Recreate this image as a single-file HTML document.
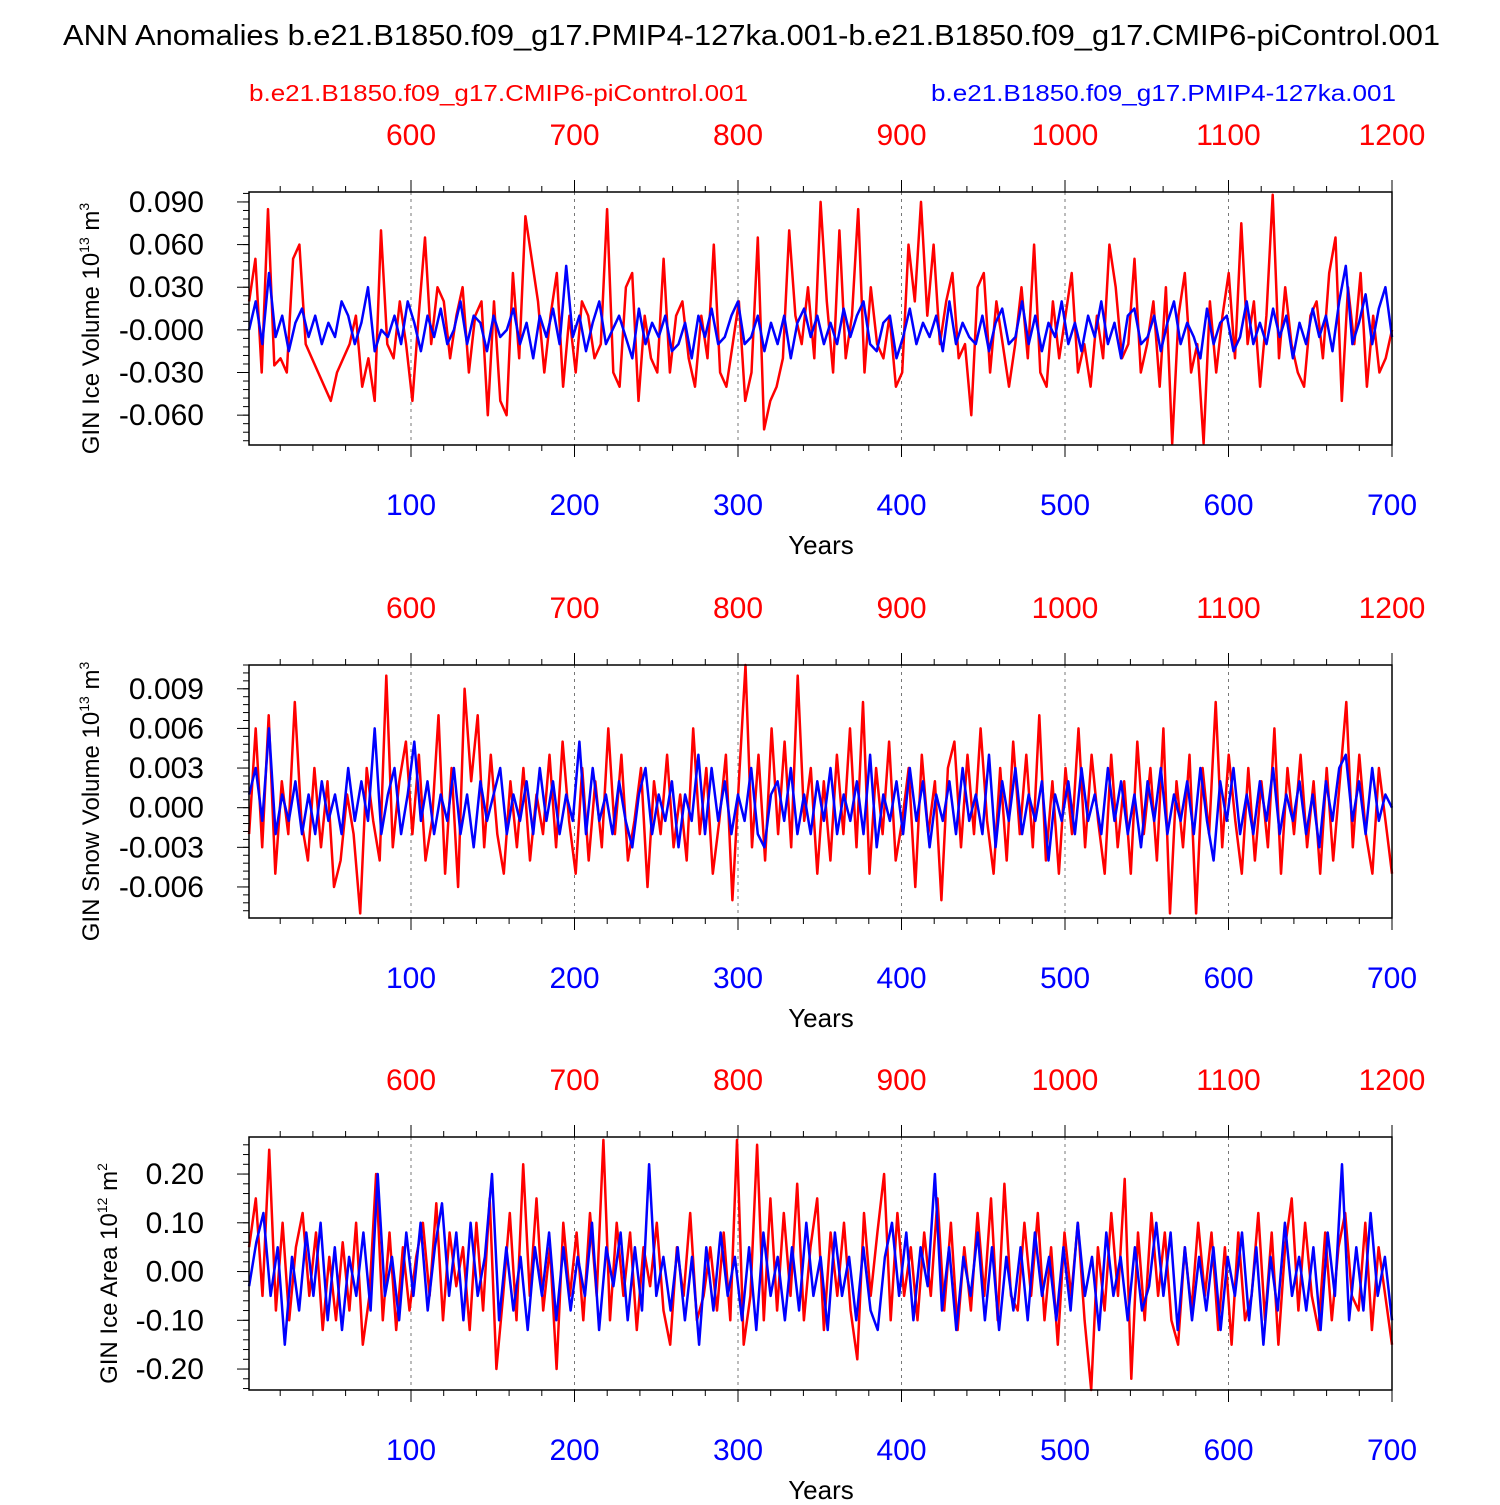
<!DOCTYPE html>
<html><head><meta charset="utf-8">
<style>
html,body{margin:0;padding:0;background:#fff;}
svg text{font-family:"Liberation Sans",Arial,sans-serif;}
</style></head>
<body>
<svg id="chart" width="1500" height="1500" xmlns="http://www.w3.org/2000/svg">
<rect width="1500" height="1500" fill="#fff"/>
<text x="63" y="45" font-size="29" textLength="1377" lengthAdjust="spacingAndGlyphs">ANN Anomalies b.e21.B1850.f09_g17.PMIP4-127ka.001-b.e21.B1850.f09_g17.CMIP6-piControl.001</text>
<text x="249" y="101" font-size="23" fill="#ff0000" textLength="499" lengthAdjust="spacingAndGlyphs">b.e21.B1850.f09_g17.CMIP6-piControl.001</text>
<text x="931" y="101" font-size="23" fill="#0000ff" textLength="465" lengthAdjust="spacingAndGlyphs">b.e21.B1850.f09_g17.PMIP4-127ka.001</text>
</svg>
<script>
// Panel 1: GIN Ice Volume (x0.001 of 10^13 m^3)
const iceVolRed = [20,50,-30,85,-25,-20,-30,50,60,-10,-20,-30,-40,-50,-30,-20,-10,10,-40,-20,-50,70,-10,-20,20,-10,-50,10,65,-10,30,20,-20,10,30,-30,10,20,-60,20,-50,-60,40,-20,80,50,20,-30,10,40,-40,10,-30,20,10,-20,-10,85,-30,-40,30,40,-50,10,-20,-30,50,-30,10,20,-20,-40,10,-20,60,-30,-40,-10,20,-50,-30,65,-70,-50,-40,-20,70,10,-10,30,-20,90,20,-30,70,-20,10,85,-30,30,-10,-20,10,-40,-30,60,20,90,10,60,-10,20,40,-20,-10,-60,30,40,-30,20,-10,-40,-10,30,-20,60,-30,-40,20,-20,10,40,-30,-10,-40,10,-20,60,30,-20,-10,50,-30,-10,20,-40,30,-80,10,40,-30,-10,-80,20,-30,10,40,-20,75,-10,20,-40,10,95,-20,30,-10,-30,-40,10,20,-20,40,65,-50,30,-10,40,-40,10,-30,-20,0];
const iceVolBlue = [0,20,-10,40,-5,10,-15,5,15,-5,10,-10,5,-5,20,10,-10,5,30,-15,0,-5,10,-10,20,5,-15,10,-5,15,-10,0,20,-10,10,5,-15,10,-5,0,15,-10,5,-20,10,-5,15,-10,45,-5,10,-15,5,20,-10,0,10,-5,-20,15,-10,5,-5,10,-15,-10,5,-20,10,-5,15,-10,-5,10,20,-10,-5,10,-15,5,-10,10,-20,5,15,-5,10,-10,5,-10,15,-5,10,20,-10,-15,5,10,-20,-5,15,-10,5,-5,10,-15,20,-10,5,-5,-10,10,-15,5,15,-10,-5,20,-10,10,-15,5,-5,20,-10,5,-15,10,-5,20,-10,5,-20,10,15,-10,-5,10,-15,5,20,-10,5,-5,-20,15,-10,5,10,-15,-5,20,-10,5,-10,15,-5,10,-20,5,-10,15,-5,10,-15,20,45,-10,5,25,-10,15,30,-5];
// Panel 2: GIN Snow Volume (x0.001 of 10^13 m^3)
const snowRed = [-2,6,-3,7,-5,2,-2,8,-1,-4,3,-3,2,-6,-4,1,-2,-8,3,-1,-4,10,-3,2,5,-2,4,-4,-1,7,-5,3,-6,9,2,7,-3,4,-2,-5,2,-3,3,-4,1,-2,4,-3,5,-1,-5,3,-4,2,-3,6,-2,4,-4,-1,3,-6,2,-2,4,-3,1,-4,6,-2,3,-5,-1,4,-7,2,11,-3,4,-4,6,-2,5,-3,10,-1,3,-5,2,-4,4,-2,6,-3,8,-5,3,-2,5,-4,-1,3,-6,4,-2,2,-7,3,5,-3,4,-2,6,-1,-5,3,-4,5,-2,4,-3,7,-4,2,-5,3,-2,6,-3,4,-1,-5,4,-3,2,-5,5,-2,3,-4,6,-8,2,-3,4,-8,3,-2,8,-3,4,-1,-5,3,-4,2,-3,6,-5,3,-2,4,-3,2,-5,3,-4,2,8,-3,4,-2,-5,3,-1,-5];
const snowBlue = [1,3,-1,6,-2,1,-1,2,-2,1,-2,2,-1,1,-2,3,-1,2,-1,6,-2,1,3,-2,1,5,-1,2,-2,1,-1,3,-2,1,-3,2,-1,1,3,-2,1,-1,2,-2,3,-1,2,-2,1,-1,5,-2,3,-1,1,-2,2,-1,-3,1,3,-2,1,-1,2,-3,1,-1,4,-2,3,-1,2,-2,1,-1,3,-2,-3,1,2,-1,3,-2,1,-2,2,-1,3,-2,1,-1,2,-2,4,-3,1,-1,2,-2,3,-1,2,-3,1,-1,2,-2,3,-1,1,-2,4,-3,2,-1,3,-2,1,-1,2,-4,1,-1,2,-2,3,-1,1,-2,3,-1,2,-2,1,-3,2,-1,3,-2,1,-1,2,-2,3,-1,-4,2,-1,3,-2,1,-2,2,-1,3,-2,1,-1,2,-2,1,-3,2,-1,3,4,-1,2,-2,3,-1,1,0];
// Panel 3: GIN Ice Area (x0.01 of 10^12 m^2)
const areaRed = [5,15,-5,25,-8,10,-10,5,12,-5,8,-12,3,-10,6,-8,10,-15,-5,20,-10,8,-12,5,-8,3,10,-5,14,-10,8,-3,5,-12,10,-8,15,-20,-5,12,-10,22,-5,15,-8,5,-20,10,-5,8,-10,12,-5,27,-10,10,-5,8,-12,5,-3,10,-8,-15,5,-5,12,-10,-5,5,-8,8,-10,27,-15,-5,26,-10,15,-8,12,-5,18,-10,5,15,-12,8,-5,10,-8,-18,12,-5,8,20,-10,12,-5,5,-10,8,-5,15,-8,10,-12,5,-8,12,-5,15,-10,18,-5,-8,10,-5,12,-10,5,-15,8,-5,10,-10,-25,5,-8,12,-5,19,-22,8,-10,12,-5,8,-10,-15,5,-8,10,-5,8,-12,5,-15,8,-10,-5,12,-10,8,-15,5,15,-8,10,-5,-12,8,-10,5,12,-5,-8,10,-12,5,-5,-15];
const areaBlue = [-3,6,12,-5,5,-15,3,-8,8,-5,10,-10,5,-12,3,-5,8,-8,20,-5,3,-10,8,-5,10,-8,5,14,-5,8,-10,10,-5,3,20,-10,5,-8,3,-12,5,-5,8,-10,5,-8,3,-5,10,-12,5,-3,8,-10,5,-8,22,-5,3,-8,5,-10,3,-15,5,-8,8,-5,3,-10,5,-12,8,-5,3,-10,5,-8,10,-5,3,-12,8,-5,3,-10,5,-8,-12,3,10,-5,8,-10,5,-3,20,-8,5,-12,3,-5,8,-10,5,-12,3,-8,5,-10,8,-5,3,-10,5,-8,10,-5,3,-12,8,-5,3,-10,5,-8,-3,10,-5,8,-12,5,-10,3,-8,5,-12,3,-5,8,-10,5,-15,3,-8,10,-5,3,-8,5,-12,8,-5,22,-10,5,-8,12,-5,3,-10];

const blueTicks = [100,200,300,400,500,600,700];
const redTicks = [600,700,800,900,1000,1100,1200];
const p1Ticks = [0.09,0.06,0.03,0,-0.03,-0.06];
const p1Labels = ["0.090","0.060","0.030","-0.000","-0.030","-0.060"];
const p2Ticks = [0.009,0.006,0.003,0,-0.003,-0.006];
const p2Labels = ["0.009","0.006","0.003","0.000","-0.003","-0.006"];
const p3Ticks = [0.2,0.1,0,-0.1,-0.2];
const p3Labels = ["0.20","0.10","0.00","-0.10","-0.20"];

const NS="http://www.w3.org/2000/svg";
const svg=document.getElementById('chart');
function mk(tag,attrs,parent){const e=document.createElementNS(NS,tag);for(const k in attrs)e.setAttribute(k,attrs[k]);(parent||svg).appendChild(e);return e;}

const L=249,R=1392;
const xs=v=>247.5+(v)*(R-247.5)/700;

const panels=[
 {name:'ice-volume',top:192,bot:445,ymax:0.097,ymin:-0.081,ticks:p1Ticks,labels:p1Labels,minor:0.006,red:iceVolRed,blue:iceVolBlue,scale:0.001,title:['GIN Ice Volume 10','13',' m','3'],tx:90},
 {name:'snow-volume',top:665,bot:918,ymax:0.0108,ymin:-0.00835,ticks:p2Ticks,labels:p2Labels,minor:0.0006,red:snowRed,blue:snowBlue,scale:0.001,title:['GIN Snow Volume 10','13',' m','3'],tx:90},
 {name:'ice-area',top:1137,bot:1390,ymax:0.276,ymin:-0.243,ticks:p3Ticks,labels:p3Labels,minor:0.02,red:areaRed,blue:areaBlue,scale:0.01,title:['GIN Ice Area 10','12',' m','2'],tx:108}
];

panels.forEach(p=>{
 const g=mk('g',{});
 
 
 const ys=v=>p.bot-(v-p.ymin)*(p.bot-p.top)/(p.ymax-p.ymin);
 blueTicks.slice(0,6).forEach(t=>{
  const l=mk('line',{x1:xs(t),x2:xs(t),y1:p.top,y2:p.bot,stroke:'#777','stroke-width':1,'stroke-dasharray':'3,4'},g);
  
  
 });
 [['red','#ff0000'],['blue','#0000ff']].forEach(([k,c])=>{
  const arr=p[k];const n=arr.length;
  const pts=arr.map((v,i)=>{const yr=1+i*699/(n-1);let y=ys(v*p.scale);y=Math.max(p.top,Math.min(p.bot,y));return xs(yr).toFixed(1)+','+y.toFixed(1);}).join(' ');
  const pl=mk('polyline',{points:pts,fill:'none',stroke:c,'stroke-width':2.5,'stroke-linejoin':'round'},g);
  
  
 });
 const fr=mk('rect',{x:L,y:p.top,width:R-L,height:p.bot-p.top,fill:'none',stroke:'#000','stroke-width':1.5},g);
 
 
 for(let t=20;t<=700;t+=20){
  const maj=t%100===0;const len=maj?12:6;
  mk('line',{x1:xs(t),x2:xs(t),y1:p.bot,y2:p.bot+len,stroke:'#000','stroke-width':1},g);
  mk('line',{x1:xs(t),x2:xs(t),y1:p.top,y2:p.top-len,stroke:'#000','stroke-width':1},g);
 }
 blueTicks.forEach(t=>{
  const tx=mk('text',{x:xs(t),y:p.bot+70,'font-size':30,'text-anchor':'middle',fill:'#0000ff'},g);
  tx.textContent=t;
  
  
 });
 redTicks.forEach((t,i)=>{
  const tx=mk('text',{x:xs(blueTicks[i]),y:p.top-47,'font-size':30,'text-anchor':'middle',fill:'#ff0000'},g);
  tx.textContent=t;
  
  
 });
 const xt=mk('text',{x:821,y:p.bot+109,'font-size':26,'text-anchor':'middle'},g);
 xt.textContent='Years';
 
 
 const start=Math.ceil(p.ymin/p.minor),end=Math.floor(p.ymax/p.minor);
 for(let k=start;k<=end;k++){const v=k*p.minor;mk('line',{x1:L-6,x2:L,y1:ys(v),y2:ys(v),stroke:'#000','stroke-width':1},g);}
 p.ticks.forEach((t,i)=>{
  mk('line',{x1:L-12,x2:L,y1:ys(t),y2:ys(t),stroke:'#000','stroke-width':1},g);
  const tx=mk('text',{x:204,y:ys(t)+10,'font-size':30,'text-anchor':'end'},g);
  tx.textContent=p.labels[i];
  
  
 });
 const cy=(p.top+p.bot)/2+10;
 const yt=mk('text',{x:0,y:0,'font-size':24,'text-anchor':'middle',transform:`translate(${p.tx+9},${cy}) rotate(-90)`},g);
 
 
 const parts=p.title;
 const a=mk('tspan',{},yt);a.textContent=parts[0];
 const b=mk('tspan',{'font-size':14,dy:-10},yt);b.textContent=parts[1];
 const c=mk('tspan',{dy:10},yt);c.textContent=parts[2];
 const d=mk('tspan',{'font-size':14,dy:-10},yt);d.textContent=parts[3];
});
</script>
</body></html>
